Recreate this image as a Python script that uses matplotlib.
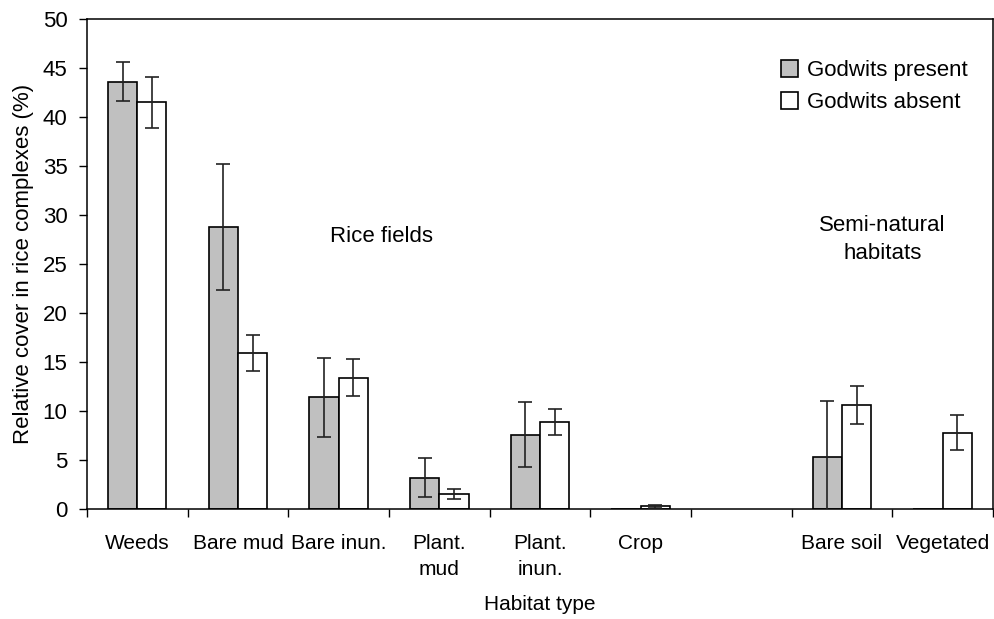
import numpy as np
import matplotlib.pyplot as plt
from matplotlib.ticker import FixedLocator

plt.rcParams['font.family'] = ['Liberation Sans', 'DejaVu Sans']

# habitat categories (one empty slot between rice fields and semi-natural)
categories = ['Weeds', 'Bare mud', 'Bare inun.', 'Plant.\nmud', 'Plant.\ninun.',
              'Crop', '', 'Bare soil', 'Vegetated']

# mean relative cover (%) and error (+/-), NaN = no bar
present = [43.6, 28.8, 11.4, 3.2, 7.6, 0.0, np.nan, 5.35, 0.0]
present_err = [2.0, 6.4, 4.0, 2.0, 3.3, 0.0, np.nan, 5.65, 0.0]
absent = [41.5, 15.9, 13.4, 1.55, 8.9, 0.27, np.nan, 10.6, 7.8]
absent_err = [2.6, 1.85, 1.9, 0.5, 1.35, 0.12, np.nan, 1.95, 1.75]

x = np.arange(len(categories))
w = 0.29

fig = plt.figure(figsize=(9.95, 6.19), dpi=100)
ax = fig.add_axes([0.0874, 0.1777, 0.9106, 0.7913])

ax.bar(x - w / 2, present, w, color='#c0c0c0', edgecolor='black', linewidth=1.2,
       label='Godwits present', zorder=2)
ax.bar(x + w / 2, absent, w, color='white', edgecolor='black', linewidth=1.2,
       label='Godwits absent', zorder=2)

# error bars only where there is a non-zero error
pe = np.array(present_err)
ae = np.array(absent_err)
mp = np.nan_to_num(pe) > 0
ma = np.nan_to_num(ae) > 0
ax.errorbar((x - w / 2)[mp], np.array(present)[mp], yerr=pe[mp], fmt='none',
            ecolor='#222222', elinewidth=1.2, capsize=5, capthick=1.2, zorder=3)
ax.errorbar((x + w / 2)[ma], np.array(absent)[ma], yerr=ae[ma], fmt='none',
            ecolor='#222222', elinewidth=1.2, capsize=5, capthick=1.2, zorder=3)

ax.set_xlim(-0.5, len(categories) - 0.5)
ax.set_ylim(0, 50)
ax.set_yticks(np.arange(0, 51, 5))
ax.set_xticks(x)
ax.set_xticklabels(categories, fontsize=15, linespacing=1.45)
ax.xaxis.set_minor_locator(FixedLocator(np.arange(-0.5, len(categories), 1)))
ax.tick_params(axis='x', which='major', length=0, pad=18)
ax.tick_params(axis='x', which='minor', length=6, width=1, direction='out')
ax.tick_params(axis='y', length=6, width=1, direction='out', labelsize=16, pad=8)

for s in ax.spines.values():
    s.set_linewidth(1.1)

ax.set_xlabel('Habitat type', fontsize=15, labelpad=12)
ax.set_ylabel('Relative cover in rice complexes (%)', fontsize=16, labelpad=6)

ax.text(2.43, 27.8, 'Rice fields', fontsize=16, ha='center', va='center')
ax.text(7.4, 27.5, 'Semi-natural\nhabitats', fontsize=16, ha='center', va='center',
        linespacing=1.4)

ax.legend(loc='upper left', bbox_to_anchor=(0.765, 0.935), bbox_transform=fig.transFigure,
          frameon=False, fontsize=16, handlelength=0.75, handleheight=0.75,
          handletextpad=0.4, labelspacing=0.5)

fig.savefig('out.png', dpi=100)
